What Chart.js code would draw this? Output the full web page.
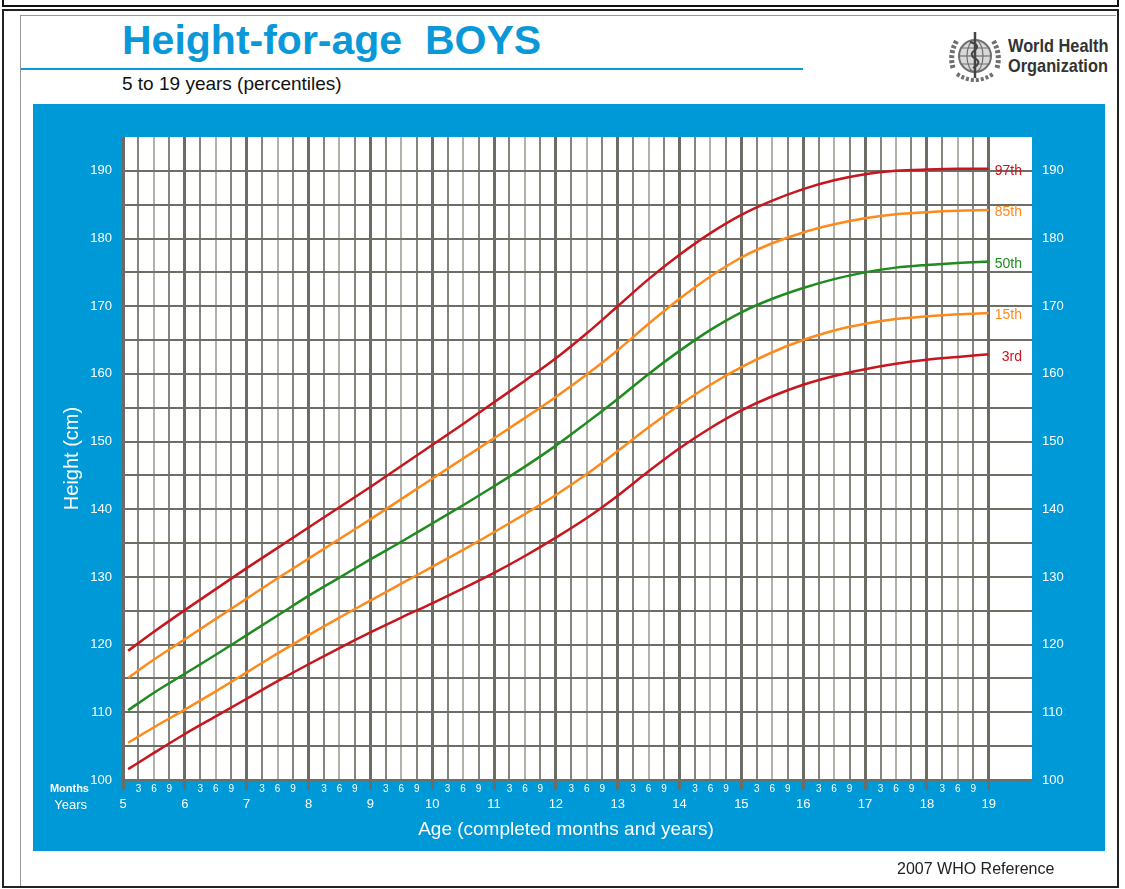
<!DOCTYPE html>
<html>
<head>
<meta charset="utf-8">
<title>Height-for-age BOYS</title>
<script src="https://cdn.jsdelivr.net/npm/chart.js@4/dist/chart.umd.min.js"></script>
<style>
  html, body { margin: 0; padding: 0; background: #fff; }
  body { width: 1125px; height: 889px; position: relative; overflow: hidden;
         font-family: "Liberation Sans", Arial, sans-serif; }
  .abs { position: absolute; white-space: pre; }
  #stub { left: 2px; top: -4px; width: 1117px; height: 11px; border: 2px solid #111; box-sizing: border-box; }
  #frame { left: 2px; top: 9px; width: 1117px; height: 879px; border: 2px solid #222; box-sizing: border-box; }
  #inner { left: 20px; top: 15px; width: 1095px; height: 870px; border-left: 1px solid #999; border-top: 1px solid #999; }
  #title { left: 122px; top: 20px; font-size: 41px; line-height: 41px; font-weight: bold; color: #0b98d9; }
  #rule { left: 21px; top: 68px; width: 782px; height: 2px; background: #0b98d9; }
  #sub { left: 122px; top: 74px; font-size: 19px; line-height: 19px; color: #111; }
  #who { left: 1008px; top: 36px; font-weight: bold; font-size: 19px; line-height: 20px; color: #333;
         transform: scaleX(0.86); transform-origin: 0 0; }
  #panel { left: 33px; top: 104px; width: 1072px; height: 747px; background: #0099d8; }
  #foot { left: 897px; top: 861px; font-size: 16px; line-height: 16px; color: #222; }
  #months { left: 40px; top: 783px; width: 49px; text-align: right; font-size: 11px; line-height: 11px; font-weight: bold; color: #fff; }
  #years { left: 40px; top: 798px; width: 47px; text-align: right; font-size: 13px; line-height: 13px; color: #fff; }
  #xtitle { left: 366px; top: 819px; width: 400px; text-align: center; font-size: 19px; line-height: 19px; color: #fff; }
  #logo { left: 945px; top: 28px; }
  #chart { position: absolute; left: 0; top: 0; }
</style>
</head>
<body>
<div class="abs" id="stub"></div>
<div class="abs" id="frame"></div>
<div class="abs" id="inner"></div>
<div class="abs" id="title">Height-for-age  BOYS</div>
<div class="abs" id="rule"></div>
<div class="abs" id="sub">5 to 19 years (percentiles)</div>
<svg class="abs" id="logo" width="60" height="58" viewBox="0 0 60 58">
  <g fill="none" stroke="#6f6f6f">
    <path d="M8 40 Q4 26 12 12" stroke-width="5" stroke-dasharray="3 2"/>
    <path d="M52 40 Q56 26 48 12" stroke-width="5" stroke-dasharray="3 2"/>
    <path d="M12 46 Q30 58 48 46" stroke-width="4" stroke-dasharray="3 2"/>
    <circle cx="30" cy="28" r="16" stroke-width="2" fill="#d8d8d8"/>
    <ellipse cx="30" cy="28" rx="8" ry="16" stroke-width="1.2"/>
    <line x1="14" y1="28" x2="46" y2="28" stroke-width="1.2"/>
    <line x1="17" y1="20" x2="43" y2="20" stroke-width="1"/>
    <line x1="17" y1="36" x2="43" y2="36" stroke-width="1"/>
    <line x1="30" y1="4" x2="30" y2="50" stroke="#444" stroke-width="2.5"/>
    <path d="M25 14 Q36 17 30 22 Q23 27 31 31 Q37 35 28 40" stroke="#444" stroke-width="2"/>
  </g>
</svg>
<div class="abs" id="who">World Health
Organization</div>
<div class="abs" id="panel"></div>
<canvas id="chart" width="1125" height="889"></canvas>
<div class="abs" id="months">Months</div>
<div class="abs" id="years">Years</div>
<div class="abs" id="xtitle">Age (completed months and years)</div>
<div class="abs" id="foot">2007 WHO Reference</div>

<script>
// ages in years (first point = 5 years 1 month)
const ages = [5.083, 5.5, 6, 6.5, 7, 7.5, 8, 8.5, 9, 9.5, 10, 10.5, 11, 11.5, 12, 12.5,
  13, 13.5, 14, 14.5, 15, 15.5, 16, 16.5, 17, 17.5, 18, 18.5, 19];

const p97 = [119.1, 121.9, 125.1, 128.2, 131.3, 134.3, 137.3, 140.3, 143.3, 146.4, 149.5, 152.6,
  155.8, 159.0, 162.3, 166.0, 170.0, 174.0, 177.6, 180.8, 183.5, 185.6, 187.3, 188.6, 189.5,
  190.0, 190.2, 190.3, 190.3];
const p85 = [115.1, 117.8, 120.8, 123.8, 126.8, 129.8, 132.7, 135.6, 138.5, 141.5, 144.5, 147.5,
  150.5, 153.5, 156.6, 159.9, 163.5, 167.4, 171.1, 174.4, 177.2, 179.3, 180.9, 182.1, 183.0,
  183.6, 183.9, 184.1, 184.2];
const p50 = [110.3, 112.9, 115.7, 118.5, 121.4, 124.3, 127.2, 129.9, 132.6, 135.2, 137.9, 140.6,
  143.4, 146.3, 149.4, 152.8, 156.3, 160.0, 163.4, 166.5, 169.1, 171.1, 172.7, 174.0, 175.0,
  175.7, 176.1, 176.4, 176.6];
const p15 = [105.5, 107.8, 110.4, 113.1, 115.9, 118.7, 121.4, 124.0, 126.5, 129.0, 131.5, 134.0,
  136.6, 139.3, 142.1, 145.2, 148.6, 152.1, 155.4, 158.4, 161.0, 163.2, 165.0, 166.4, 167.4,
  168.1, 168.5, 168.8, 169.0];
const p3 = [101.6, 104.0, 106.8, 109.4, 112.0, 114.6, 117.1, 119.5, 121.8, 124.0, 126.1, 128.3,
  130.6, 133.1, 135.8, 138.7, 142.0, 145.6, 149.0, 152.0, 154.6, 156.7, 158.4, 159.7, 160.7,
  161.5, 162.1, 162.5, 162.9];

const percentileNames = ["97th", "85th", "50th", "15th", "3rd"];
const lineColors = ["#c8161e", "#ff8a1c", "#1e8c1e", "#ff8a1c", "#c8161e"];

// tick labels
const yearTicks = [5, 6, 7, 8, 9, 10, 11, 12, 13, 14, 15, 16, 17, 18, 19];
const monthTicks = [3, 6, 9];
const heightTicks = [100, 105, 110, 115, 120, 125, 130, 135, 140, 145, 150, 155, 160, 165,
  170, 175, 180, 185, 190];

const quarterTicks = [];
yearTicks.forEach((y) => {
  quarterTicks.push(y);
  if (y < 19) monthTicks.forEach((m) => quarterTicks.push(y + m / 12));
});

const monthOf = (v) => Math.round((v - Math.floor(v)) * 12) % 12;

const series = [p97, p85, p50, p15, p3];
const datasets = series.map((vals, i) => ({
  label: percentileNames[i],
  data: vals.map((h, j) => ({ x: ages[j], y: h })),
  borderColor: lineColors[i],
  borderWidth: 2.5,
  pointRadius: 0,
  fill: false,
  cubicInterpolationMode: "monotone",
}));

const plotBackground = {
  id: "plotBackground",
  beforeDraw(chart) {
    const { ctx, chartArea: a } = chart;
    ctx.save();
    ctx.fillStyle = "#ffffff";
    ctx.fillRect(a.left, a.top, a.right - a.left, a.bottom - a.top);
    ctx.restore();
  },
};

const endLabels = {
  id: "endLabels",
  afterDatasetsDraw(chart) {
    const ctx = chart.ctx;
    ctx.save();
    ctx.font = '14px "Liberation Sans", Arial, sans-serif';
    ctx.textAlign = "right";
    ctx.textBaseline = "middle";
    chart.data.datasets.forEach((ds, i) => {
      const pts = chart.getDatasetMeta(i).data;
      const last = pts[pts.length - 1];
      ctx.fillStyle = ds.borderColor;
      ctx.fillText(ds.label, chart.chartArea.right - 10, last.y + 2.5);
    });
    ctx.restore();
  },
};

Chart.defaults.font.family = '"Liberation Sans", Arial, sans-serif';

new Chart(document.getElementById("chart"), {
  type: "line",
  data: { datasets },
  options: {
    responsive: false,
    animation: false,
    events: [],
    layout: { padding: { left: 0, right: 0, top: 137, bottom: 63 } },
    plugins: { legend: { display: false }, tooltip: { enabled: false } },
    scales: {
      x: {
        type: "linear",
        position: "bottom",
        weight: 0,
        min: 5,
        max: 19.7,
        afterBuildTicks: (s) => { s.ticks = quarterTicks.map((v) => ({ value: v })); },
        afterFit: (s) => { s.height = 16; },
        border: { display: false },
        grid: {
          color: (c) => {
            const m = monthOf(c.tick.value);
            return m === 0 ? "#6c6c64" : m === 6 ? "#b2b2aa" : "#85857d";
          },
          lineWidth: (c) => (monthOf(c.tick.value) === 0 ? 3 : 2),
          drawTicks: true,
          tickLength: 10,
          tickWidth: 3,
          tickColor: (c) => (monthOf(c.tick.value) === 0 ? "#6c6c64" : "rgba(0,0,0,0)"),
        },
        ticks: {
          color: "#ffffff",
          font: { size: 10 },
          padding: -7,
          autoSkip: false,
          maxRotation: 0,
          callback: (v) => (monthOf(v) === 0 ? "" : String(monthOf(v))),
        },
      },
      xYears: {
        type: "linear",
        position: "bottom",
        weight: 1,
        min: 5,
        max: 19.7,
        afterBuildTicks: (s) => { s.ticks = yearTicks.map((v) => ({ value: v })); },
        afterFit: (s) => { s.height = 30; },
        border: { display: false },
        grid: { display: false, drawTicks: false },
        ticks: {
          color: "#ffffff",
          font: { size: 13 },
          padding: 1,
          autoSkip: false,
          maxRotation: 0,
          callback: (v) => String(v),
        },
      },
      y: {
        type: "linear",
        position: "left",
        min: 100,
        max: 195,
        afterBuildTicks: (s) => { s.ticks = heightTicks.map((v) => ({ value: v })); },
        afterFit: (s) => { s.width = 123; },
        border: { display: false },
        grid: { color: "#6e6e66", lineWidth: 2, drawTicks: false },
        ticks: {
          color: "#ffffff",
          font: { size: 13 },
          padding: 11,
          callback: (v) => (v % 10 === 0 ? String(v) : ""),
        },
        title: {
          display: true,
          text: "Height (cm)",
          color: "#ffffff",
          font: { size: 20 },
          padding: { top: 60, bottom: 0 },
        },
      },
      y2: {
        type: "linear",
        position: "right",
        min: 100,
        max: 195,
        afterBuildTicks: (s) => { s.ticks = heightTicks.map((v) => ({ value: v })); },
        afterFit: (s) => { s.width = 93; },
        border: { display: false },
        grid: { display: false, drawTicks: false },
        ticks: {
          color: "#ffffff",
          font: { size: 13 },
          padding: 10,
          callback: (v) => (v % 10 === 0 ? String(v) : ""),
        },
      },
    },
  },
  plugins: [plotBackground, endLabels],
});
</script>
</body>
</html>
